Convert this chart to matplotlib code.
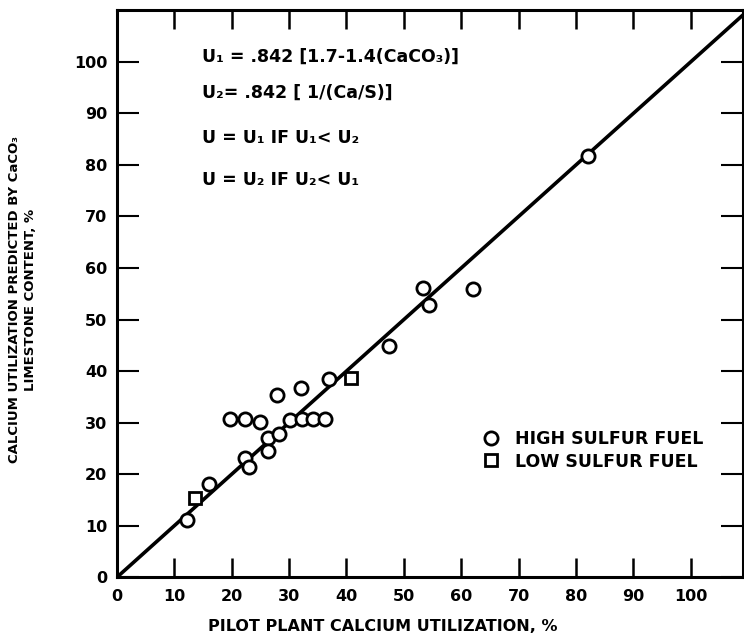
import matplotlib.pyplot as plt

# pilot plant utilization (x) vs utilization predicted by CaCO3 content (y), %
high_sulfur_x = [12.2, 16.1, 22.3, 23.1, 19.8, 22.4, 25.0, 26.3, 26.3, 28.3, 27.9,
                 30.1, 32.3, 34.1, 36.2, 32.1, 37.0, 47.4, 53.3, 54.4, 62.0, 82.0]
high_sulfur_y = [11.2, 18.1, 23.1, 21.5, 30.7, 30.7, 30.2, 27.0, 24.6, 27.8, 35.3,
                 30.6, 30.7, 30.7, 30.7, 36.7, 38.4, 44.9, 56.1, 52.8, 55.9, 81.7]
low_sulfur_x = [13.7, 40.8]
low_sulfur_y = [15.4, 38.6]

parity_x = [0, 110]
parity_y = [0, 110]

ticks = [0, 10, 20, 30, 40, 50, 60, 70, 80, 90, 100]

equations = [
    "U₁ = .842 [1.7-1.4(CaCO₃)]",
    "U₂= .842 [ 1/(Ca/S)]",
    "U = U₁ IF U₁< U₂",
    "U = U₂ IF U₂< U₁",
]
equation_y = [100.9, 93.9, 85.2, 77.0]

plt.rcParams["font.family"] = ["DejaVu Sans"]
plt.rcParams["font.weight"] = "bold"

fig = plt.figure(figsize=(7.44, 6.38), dpi=100)
ax = fig.add_axes([0.157, 0.095, 0.841, 0.889])

ax.plot(parity_x, parity_y, color="black", lw=2.6, solid_capstyle="round")
ax.plot(high_sulfur_x, high_sulfur_y, "o", ms=9.5, mfc="white", mec="black",
        mew=2.0, label="HIGH SULFUR FUEL", zorder=3)
ax.plot(low_sulfur_x, low_sulfur_y, "s", ms=9, mfc="white", mec="black",
        mew=2.0, label="LOW SULFUR FUEL", zorder=3)

ax.set_xlim(0, 109)
ax.set_ylim(0, 110)
ax.set_xticks(ticks)
ax.set_yticks(ticks)
ax.set_xticklabels([str(t) for t in ticks], fontsize=11.5, fontweight="bold")
ax.set_yticklabels([str(t) for t in ticks], fontsize=11.5, fontweight="bold")
ax.tick_params(axis="x", direction="in", length=14, width=1.8, top=True, pad=8)
ax.tick_params(axis="y", direction="in", length=16, width=1.5, right=True, pad=7)
for side in ax.spines.values():
    side.set_linewidth(2.2)

for text, y in zip(equations, equation_y):
    ax.text(14.8, y, text, fontsize=12.5, fontweight="bold", va="center")

ax.legend(loc="center left", bbox_to_anchor=(0.586, 0.224), frameon=False,
          handlelength=0.9, handletextpad=0.9, borderpad=0,
          borderaxespad=0, labelspacing=0.25, prop={"weight": "bold", "size": 12.5})

ax.set_xlabel("PILOT PLANT CALCIUM UTILIZATION, %", fontsize=11.5, fontweight="bold")
ax.xaxis.set_label_coords(0.425, -0.074)
ax.set_ylabel("CALCIUM UTILIZATION PREDICTED BY CaCO₃\nLIMESTONE CONTENT, %",
              fontsize=9.5, fontweight="bold", linespacing=1.25)
ax.yaxis.set_label_coords(-0.128, 0.49)

fig.savefig("out.png", dpi=100)
